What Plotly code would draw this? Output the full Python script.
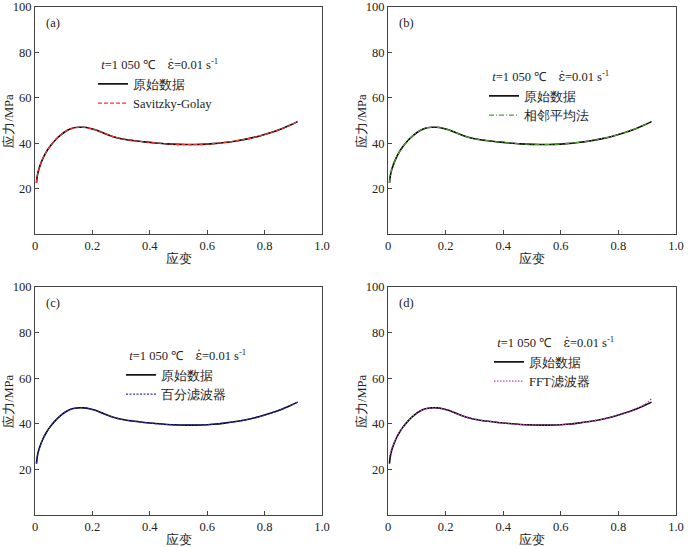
import plotly.graph_objects as go

# ---- data ----
strain = [0.005, 0.01, 0.02, 0.03, 0.04, 0.05, 0.07, 0.09, 0.11, 0.13, 0.15, 0.17, 0.19,
          0.21, 0.24, 0.27, 0.30, 0.34, 0.38, 0.42, 0.46, 0.50, 0.54, 0.58, 0.62, 0.66,
          0.70, 0.74, 0.78, 0.82, 0.86, 0.89, 0.915]
stress_raw = [22.5, 27.0, 31.0, 34.0, 36.3, 38.2, 41.3, 43.7, 45.5, 46.6, 47.0, 47.0, 46.6,
              45.9, 44.4, 43.0, 42.0, 41.2, 40.6, 40.1, 39.7, 39.5, 39.4, 39.5, 39.8, 40.3,
              41.0, 41.9, 43.1, 44.6, 46.4, 48.0, 49.5]
stress_sg = stress_raw
stress_adj = stress_raw
stress_pct = stress_raw
stress_fft = [25.5, 28.0, 31.4, 34.2, 36.4, 38.2, 41.3, 43.7, 45.5, 46.6, 47.0, 47.0, 46.6,
              45.9, 44.4, 43.0, 42.0, 41.2, 40.6, 40.1, 39.7, 39.5, 39.4, 39.5, 39.8, 40.3,
              41.0, 41.9, 43.1, 44.6, 46.5, 48.4, 51.0]

panel_tags = ["(a)", "(b)", "(c)", "(d)"]
filter_names = ["Savitzky-Golay", "相邻平均法", "百分滤波器", "FFT滤波器"]
filter_series = [stress_sg, stress_adj, stress_pct, stress_fft]
raw_name = "原始数据"
cond_text = ("\u00a0\u00a0<i>t</i>=1 050 ℃    "
             "<span style=\"font-family:DejaVu Serif\">ε\u0307</span>=0.01 s<sup>-1</sup>")
x_ticks = [0, 0.2, 0.4, 0.6, 0.8, 1.0]
x_ticklabels = ["0", "0.2", "0.4", "0.6", "0.8", "1.0"]
y_ticks = [20, 40, 60, 80, 100]
x_title = "应变"
y_title = "应力/MPa"

# ---- styling ----
W, H = 700, 547
FONT = "Liberation Serif"
filter_styles = [
    dict(color="#ff3030", dash="4px,2px", width=1.2),
    dict(color="#4fa028", dash="5px,2px,1px,2px", width=1.2),
    dict(color="#3030c8", dash="2px,1.5px", width=1.2),
    dict(color="#c040c0", dash="1.5px,1.5px", width=1.2),
]


def px_x(v):
    return v / W


def px_y(v):
    return 1 - v / H


xdom = [(px_x(35), px_x(322)), (px_x(388), px_x(676))]
ydom = [(px_y(234), px_y(7)), (px_y(515), px_y(287))]
legend_pos = [(93, 53), (484, 65), (121, 344), (489, 331)]  # reference pixel top-left

fig = go.Figure()
for i in range(4):
    r, c = divmod(i, 2)
    ax = "" if i == 0 else str(i + 1)
    leg = "legend" if i == 0 else "legend%d" % (i + 1)
    fig.add_trace(go.Scatter(x=strain, y=stress_raw, mode="lines", name=raw_name,
                             line=dict(color="black", width=1.6, shape="spline"),
                             xaxis="x" + ax, yaxis="y" + ax, legend=leg))
    fig.add_trace(go.Scatter(x=strain, y=filter_series[i], mode="lines", name=filter_names[i],
                             line=dict(shape="spline", **filter_styles[i]),
                             xaxis="x" + ax, yaxis="y" + ax, legend=leg))
    axis_common = dict(showline=True, linecolor="#444", linewidth=1, mirror=True,
                       ticks="inside", ticklen=4, tickcolor="#444", showgrid=False,
                       zeroline=False, automargin=False, ticklabeloverflow="allow",
                       tickfont=dict(size=12.5, color="#222", family=FONT))
    fig.update_layout(**{
        "xaxis" + ax: dict(domain=xdom[c], range=[0, 1], tickvals=x_ticks,
                           ticktext=x_ticklabels, anchor="y" + ax, **axis_common),
        "yaxis" + ax: dict(domain=ydom[r], range=[0, 100], tickvals=y_ticks,
                           anchor="x" + ax, **axis_common),
    })
    lx, ly = legend_pos[i]
    fig.update_layout(**{leg: dict(x=px_x(lx), y=px_y(ly), xanchor="left", yanchor="top",
                                   bgcolor="rgba(0,0,0,0)", borderwidth=0,
                                   font=dict(size=12.5, family=FONT, color="#222"),
                                   title=dict(text=cond_text, font=dict(size=12.5, family=FONT)),
                                   itemwidth=30, tracegroupgap=0)})
    dom = ax + " domain"
    fig.add_annotation(text=panel_tags[i], xref="x" + dom, yref="y" + dom,
                       x=0.03, y=0.97, xanchor="left", yanchor="top", showarrow=False,
                       font=dict(size=12.5, color="#222", family=FONT))
    fig.add_annotation(text=x_title, xref="x" + dom, yref="y" + dom,
                       x=0.5, y=0, yshift=-24, xanchor="center", yanchor="middle",
                       showarrow=False, font=dict(size=12.5, color="#222", family=FONT))
    fig.add_annotation(text=y_title, xref="x" + dom, yref="y" + dom,
                       x=0, y=0.5, xshift=-27, xanchor="center", yanchor="middle",
                       textangle=-90, showarrow=False,
                       font=dict(size=12.5, color="#222", family=FONT))

fig.update_layout(width=W, height=H, margin=dict(l=0, r=0, t=0, b=0),
                  paper_bgcolor="white", plot_bgcolor="white",
                  font=dict(family=FONT, size=12.5, color="#222"), showlegend=True)
fig.write_html("out.html", config={"displayModeBar": False},
               post_script="document.body.style.margin='0px';")
